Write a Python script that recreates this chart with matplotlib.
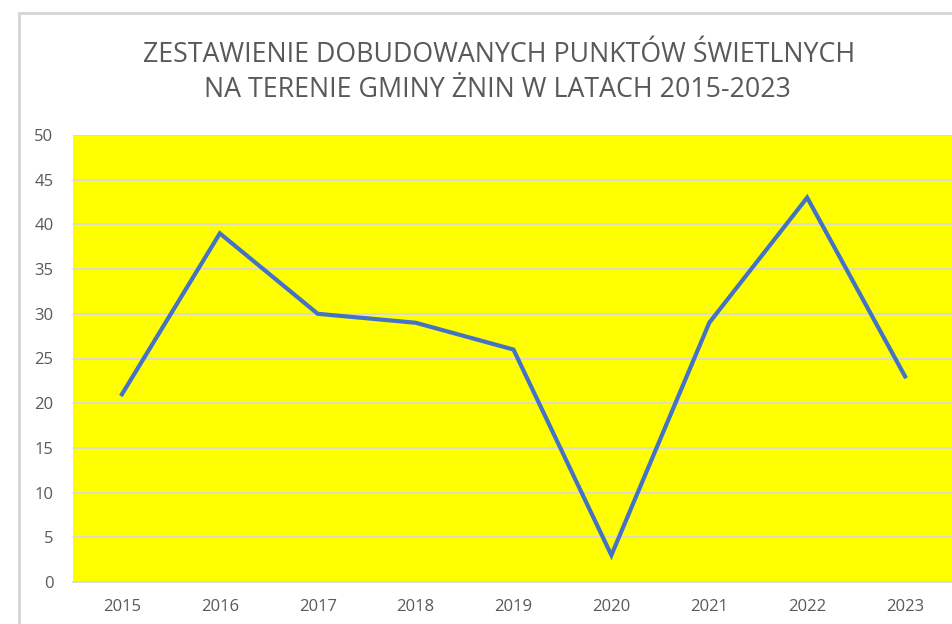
import matplotlib
matplotlib.use("Agg")
import matplotlib.pyplot as plt
from matplotlib.patches import Rectangle

years = ["2015", "2016", "2017", "2018", "2019", "2020", "2021", "2022", "2023"]
values = [21, 39, 30, 29, 26, 3, 29, 43, 23]
yticks = [0, 5, 10, 15, 20, 25, 30, 35, 40, 45, 50]
title_lines = ["ZESTAWIENIE DOBUDOWANYCH PUNKTÓW ŚWIETLNYCH",
               "NA TERENIE GMINY ŻNIN W LATACH 2015-2023"]

plt.rcParams['font.family'] = ['Open Sans', 'DejaVu Sans']
W, H = 952, 624
fig = plt.figure(figsize=(W / 100, H / 100), dpi=100)
fig.patch.set_facecolor("white")

# outer chart frame
fig.patches.append(Rectangle((19 / W, -0.1), 1.2, 1 - 13 / H + 0.1,
                             transform=fig.transFigure, fill=False,
                             edgecolor="#d4d4d4", linewidth=2))

ax = fig.add_axes([73 / W, 42 / H, 881 / W, 447 / H])
ax.set_facecolor("#ffff00")
x = list(range(len(years)))
ax.plot(x, values, color="#4472C4", linewidth=3, solid_joinstyle="miter", zorder=3)
ax.set_xlim(-0.5, len(years) - 0.5)
ax.set_ylim(0, 50)
ax.set_yticks(yticks)
ax.set_xticks(x)
ax.set_xticklabels(years)
ax.grid(axis="y", color="#d9d9d9", linewidth=1.3, zorder=1)
ax.set_axisbelow(True)
for s in ["top", "left", "right"]:
    ax.spines[s].set_visible(False)
ax.spines["bottom"].set_color("#d9d9d9")
ax.spines["bottom"].set_linewidth(1.3)
ax.tick_params(axis="both", length=0, labelsize=12, colors="#595959")
ax.tick_params(axis="y", pad=14)
ax.tick_params(axis="x", pad=12)

fig.text(499.5 / W, 1 - 62 / H, title_lines[0], ha="center", va="baseline",
         fontsize=19.3, color="#595959")
fig.text(497.5 / W, 1 - 97 / H, title_lines[1], ha="center", va="baseline",
         fontsize=19.3, color="#595959")

fig.savefig("out.png", dpi=100)
